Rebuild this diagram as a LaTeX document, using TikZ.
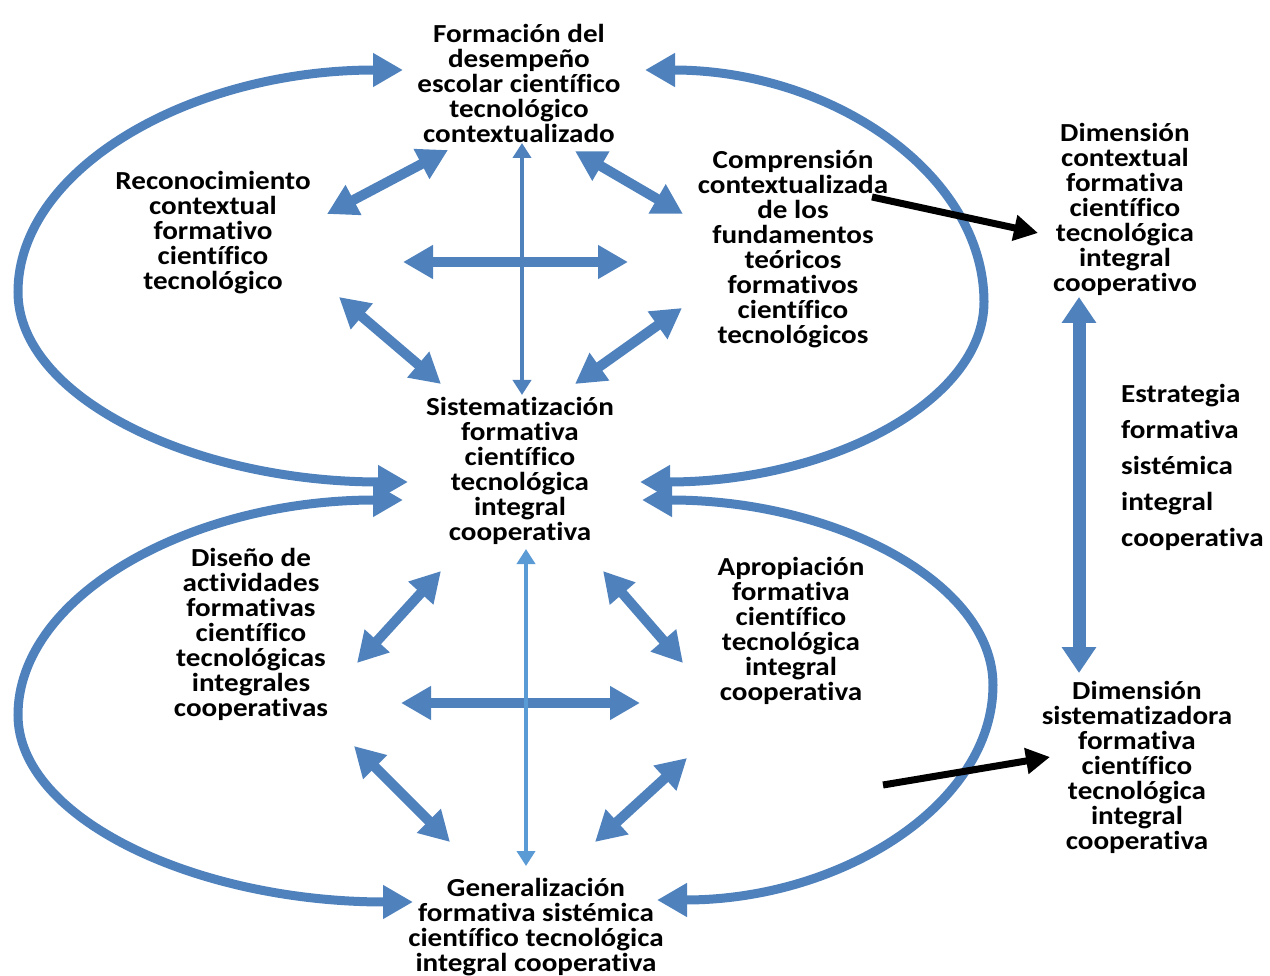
\documentclass[tikz,border=0pt]{standalone}
\usepackage{fontspec}
\setmainfont{Carlito}[FakeStretch=1.12,Ligatures=NoCommon]
\usepackage{tikz}
\usetikzlibrary{arrows.meta}
\definecolor{azul}{HTML}{4F81BD}
\definecolor{celeste}{HTML}{5B9BD5}

\begin{document}
\begin{tikzpicture}[x=1pt,y=-1pt,
  etiq/.style={
   font={\fontsize{26}{25}\selectfont\bfseries},
   align=center,
   inner sep=0pt
  },
  lazo/.style={
   color=azul,
   line width=9pt,
   {Triangle[length=30pt,width=32pt]}-{Triangle[length=30pt,width=32pt]}
  },
  doble/.style={
   color=azul,
   line width=10pt,
   {Triangle[length=30pt,width=32pt]}-{Triangle[length=30pt,width=32pt]}
  },
  fina/.style={
   line width=4.5pt,
   {Triangle[length=15pt,width=18pt]}-{Triangle[length=15pt,width=18pt]}
  },
  flecha/.style={
   black,
   line width=7pt,
   -{Triangle[length=24pt,width=25pt]}
  }]
  \useasboundingbox (0,0) rectangle (1270,976);

  % nodos
  \node[etiq] (fmt) at (519,83)
    {Formación del\\desempeño\\escolar científico\\tecnológico\\contextualizado};
  \node[etiq] (rec) at (213,233)
    {Reconocimiento\\contextual\\formativo\\científico\\tecnológico};
  \node[etiq] (com) at (793,249)
    {Comprensión\\contextualizada\\de los\\fundamentos\\teóricos\\formativos\\científico\\tecnológicos};
  \node[etiq] (sis) at (520,471)
    {Sistematización\\formativa\\científico\\tecnológica\\integral\\cooperativa};
  \node[etiq] (dis) at (251,634)
    {Diseño de\\actividades\\formativas\\científico\\tecnológicas\\integrales\\cooperativas};
  \node[etiq] (apr) at (791,631)
    {Apropiación\\formativa\\científico\\tecnológica\\integral\\cooperativa};
  \node[etiq] (gen) at (536,927)
    {Generalización\\formativa sistémica\\científico tecnológica\\integral cooperativa};
  \node[etiq] (dcon) at (1125,209)
    {Dimensión\\contextual\\formativa\\científico\\tecnológica\\integral\\cooperativo};
  \node[etiq,font={\fontsize{26}{36}\selectfont\bfseries},align=left,anchor=west] (est) at (1121,467)
    {Estrategia\\formativa\\sistémica\\integral\\cooperativa};
  \node[etiq] (dsis) at (1137,767)
    {Dimensión\\sistematizadora\\formativa\\científico\\tecnológica\\integral\\cooperativa};

  % extremos de las flechas
  \coordinate (a1) at (448,150); \coordinate (b1) at (327,214);
  \coordinate (a2) at (575,151); \coordinate (b2) at (683,214);
  \coordinate (a3) at (403,262); \coordinate (b3) at (628,262);
  \coordinate (a4) at (522,143); \coordinate (b4) at (522,395);
  \coordinate (a5) at (339,297); \coordinate (b5) at (441,384);
  \coordinate (a6) at (682,308); \coordinate (b6) at (575,384);
  \coordinate (c1) at (441,571); \coordinate (d1) at (357,663);
  \coordinate (c2) at (603,571); \coordinate (d2) at (683,663);
  \coordinate (c3) at (401,703); \coordinate (d3) at (640,703);
  \coordinate (c4) at (526,549); \coordinate (d4) at (526,866);
  \coordinate (c5) at (354,746); \coordinate (d5) at (450,842);
  \coordinate (c6) at (687,758); \coordinate (d6) at (595,842);
  \coordinate (e1) at (1079,297); \coordinate (e2) at (1079,673);
  \coordinate (p1) at (872,197); \coordinate (q1) at (1038,233);
  \coordinate (p2) at (883,785); \coordinate (q2) at (1050,757);

  % lazos
  \draw[lazo] (403,70) .. controls (190,70) and (18,169) .. (18,292)
              .. controls (18,397) and (193,482) .. (408,482);
  \draw[lazo] (403,500) .. controls (190,500) and (18,596) .. (18,715)
              .. controls (18,818) and (195,902) .. (413,902);
  \draw[lazo] (645,70) .. controls (832,70) and (984,174) .. (984,302)
              .. controls (984,401) and (830,482) .. (640,482);
  \draw[lazo] (642,500) .. controls (836,500) and (993,583) .. (993,685)
              .. controls (993,804) and (842,900) .. (657,900);

  \draw[doble] (a1) -- (b1);
  \draw[doble] (a2) -- (b2);
  \draw[doble] (a3) -- (b3);
  \draw[fina,azul] (a4) -- (b4);
  \draw[doble] (a5) -- (b5);
  \draw[doble] (a6) -- (b6);

  \draw[doble] (c1) -- (d1);
  \draw[doble] (c2) -- (d2);
  \draw[doble] (c3) -- (d3);
  \draw[fina,celeste] (c4) -- (d4);
  \draw[doble] (c5) -- (d5);
  \draw[doble] (c6) -- (d6);

  \draw[color=azul,line width=13pt,{Triangle[length=26pt,width=33pt]}-{Triangle[length=26pt,width=33pt]}] (e1) -- (e2);

  \draw[flecha] (p1) -- (q1);
  \draw[flecha] (p2) -- (q2);
\end{tikzpicture}
\end{document}
